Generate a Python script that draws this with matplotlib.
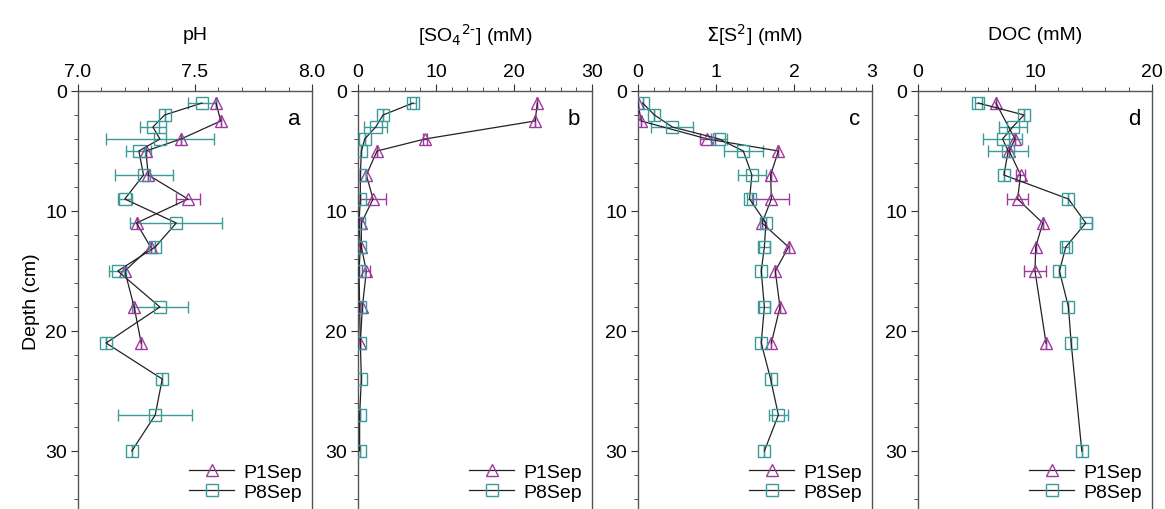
import matplotlib.pyplot as plt
import numpy as np
from matplotlib.ticker import MultipleLocator

plt.rcParams['font.family'] = ['Liberation Sans', 'DejaVu Sans']

# depths (cm)
d_p1 = [1, 2.5, 4, 5, 7, 9, 11, 13, 15, 18, 21]
d_p8 = [1, 2, 3, 4, 5, 7, 9, 11, 13, 15, 18, 21, 24, 27, 30]

# pH
ph_p1 = [7.59, 7.61, 7.44, 7.29, 7.30, 7.47, 7.25, 7.31, 7.20, 7.24, 7.27]
ph_p1_err = [0, 0, 0, 0, 0, 0.05, 0, 0, 0, 0, 0]
ph_p8 = [7.53, 7.37, 7.32, 7.35, 7.26, 7.28, 7.20, 7.42, 7.33, 7.17, 7.35, 7.12, 7.36, 7.33, 7.23]
ph_p8_err = [0.06, 0, 0.055, 0.23, 0.054, 0.124, 0.03, 0.197, 0, 0.037, 0.121, 0, 0, 0.157, 0]

# sulfate (mM)
so4_p1 = [23.0, 22.7, 8.57, 2.44, 1.07, 1.93, 0.43, 0.43, 1.07, 0.56, 0.3]
so4_p1_err = [0, 0, 0.3, 0, 0, 1.7, 0, 0, 0.5, 0, 0]
so4_p8 = [7.07, 3.21, 2.27, 0.86, 0.43, 0.3, 0.3, 0.13, 0.3, 0.13, 0.21, 0.3, 0.43, 0.21, 0.21]
so4_p8_err = [0.4, 0, 1.5, 0, 0, 0, 0, 0, 0, 0, 0, 0, 0, 0, 0]

# total sulfide (mM)
s_p1 = [0.0, 0.04, 0.89, 1.80, 1.70, 1.71, 1.59, 1.93, 1.76, 1.82, 1.71]
s_p1_err = [0, 0, 0.1, 0, 0, 0.23, 0, 0, 0, 0, 0]
s_p8 = [0.06, 0.21, 0.44, 1.04, 1.35, 1.46, 1.43, 1.64, 1.62, 1.58, 1.62, 1.58, 1.70, 1.80, 1.62]
s_p8_err = [0, 0, 0.27, 0.1, 0.25, 0.18, 0.03, 0, 0.07, 0, 0.07, 0, 0, 0.12, 0]

# DOC (mM), nan = not measured
doc_p1 = [6.66, np.nan, 8.29, 7.80, 8.77, 8.51, 10.66, 10.06, 10.0, np.nan, 10.94]
doc_p1_err = [0, 0, 0, 0, 0.4, 0.93, 0, 0, 0.9, 0, 0]
doc_p8 = [5.14, 9.06, 8.09, 7.23, 7.71, 7.34, 12.86, 14.34, 12.63, 12.09, 12.86, 13.09, np.nan, np.nan, 14.0]
doc_p8_err = [0.3, 0, 1.2, 1.7, 1.7, 0, 0, 0.5, 0.3, 0, 0, 0, 0, 0, 0]

titles = ['pH', r'[SO$_4$$^{2\text{-}}$] (mM)', r'$\Sigma$[S$^{2}$] (mM)', 'DOC (mM)']
letters = ['a', 'b', 'c', 'd']
xlims = [(7.0, 8.0), (0, 30), (0, 3), (0, 20)]
xmajor = [0.5, 10, 1, 10]
xminor = [0.1, 2, 0.2, 2]
xfmt = ['%.1f', '%d', '%d', '%d']

p1_data = [(ph_p1, ph_p1_err), (so4_p1, so4_p1_err), (s_p1, s_p1_err), (doc_p1, doc_p1_err)]
p8_data = [(ph_p8, ph_p8_err), (so4_p8, so4_p8_err), (s_p8, s_p8_err), (doc_p8, doc_p8_err)]

purple = '#9e3a9e'
teal = '#3d9a9a'

W, H = 1165, 510
fig = plt.figure(figsize=(W / 100, H / 100), dpi=100)

lefts = [78, 358, 638, 918]
top = 92
bot = 512
fs = 14
for i in range(4):
    ax = fig.add_axes([lefts[i] / W, 1 - bot / H, 234 / W, (bot - top) / H])
    for (vals, errs), dep, col, mk, lab in [(p1_data[i], d_p1, purple, '^', 'P1Sep'),
                                           (p8_data[i], d_p8, teal, 's', 'P8Sep')]:
        v = np.array(vals, dtype=float)
        e = np.array(errs, dtype=float)
        dd = np.array(dep, dtype=float)
        m = ~np.isnan(v)
        ax.errorbar(v[m], dd[m], xerr=e[m], fmt='none', ecolor=col, elinewidth=1,
                    capsize=4, capthick=1, zorder=2)
        ax.plot(v[m], dd[m], color='#222222', lw=0.9, marker=mk, ms=8.5 if mk == '^' else 8,
                mfc='none', mec=col, mew=1, label=lab, zorder=3)
    ax.set_xlim(*xlims[i])
    ax.set_ylim(35, 0)
    ax.xaxis.set_major_locator(MultipleLocator(xmajor[i]))
    ax.xaxis.set_minor_locator(MultipleLocator(xminor[i]))
    ax.xaxis.set_major_formatter(plt.FormatStrFormatter(xfmt[i]))
    ax.yaxis.set_major_locator(MultipleLocator(10))
    ax.yaxis.set_minor_locator(MultipleLocator(2))
    ax.xaxis.tick_top()
    ax.tick_params(which='both', direction='out', top=True, bottom=False, left=True, right=False,
                   labelsize=fs, colors='#333333', labelcolor='black')
    ax.tick_params(which='major', length=5, pad=3)
    ax.tick_params(which='minor', length=3)
    for s in ax.spines.values():
        s.set_color('#555555')
        s.set_linewidth(1)
    ax.text(0.95, 0.935, letters[i], transform=ax.transAxes, ha='right', va='center', fontsize=16)
    fig.text((lefts[i] + 117) / W, 1 - 35 / H, titles[i], ha='center', va='center', fontsize=fs)
    ax.legend(loc='lower right', frameon=False, fontsize=fs, handlelength=2.3,
              handletextpad=0.5, labelspacing=0.15, borderaxespad=0.1,
              bbox_to_anchor=(1.0, 0.0))
    if i == 0:
        ax.set_ylabel('Depth (cm)', fontsize=fs, labelpad=4)

fig.savefig('out.png', dpi=100)
